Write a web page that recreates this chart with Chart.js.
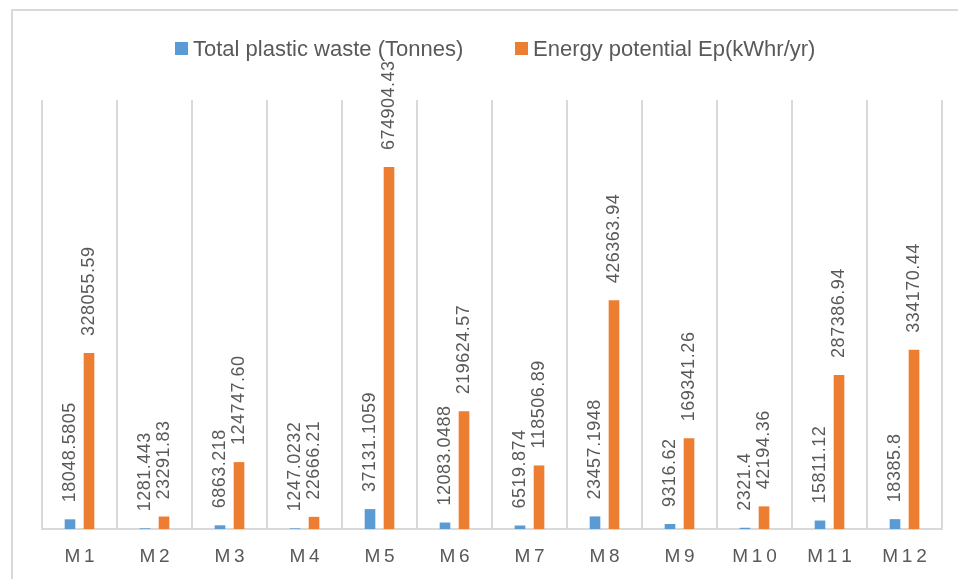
<!DOCTYPE html>
<html>
<head>
<meta charset="utf-8">
<script src="https://cdn.jsdelivr.net/npm/chart.js@4.4.1/dist/chart.umd.min.js"></script>
<style>
  html, body { margin: 0; padding: 0; background: #fff; }
  #wrap { position: relative; width: 958px; height: 579px; overflow: hidden; }
  #frame { position: absolute; left: 11px; top: 9px; width: 960px; height: 600px; border-left: 2px solid #d9d9d9; border-top: 2px solid #d9d9d9; }
  #chart { position: absolute; left: 0; top: 0; }
  .lg { position: absolute; top: 36px; font: 22px "Liberation Sans", Arial, sans-serif; color: #595959; white-space: nowrap; line-height: 25px; }
  .lg i { position: absolute; top: 6px; width: 13px; height: 13px; }
</style>
</head>
<body>
<div id="wrap">
  <div id="frame"></div>
  <canvas id="chart" width="958" height="579"></canvas>
  <div class="lg" style="left:175px; padding-left:18px;"><i style="left:0; background:#5b9bd5;"></i>Total plastic waste (Tonnes)</div>
  <div class="lg" style="left:515px; padding-left:18px;"><i style="left:0; background:#ed7d31;"></i>Energy potential Ep(kWhr/yr)</div>
</div>
<script>
const months = ['M1', 'M2', 'M3', 'M4', 'M5', 'M6', 'M7', 'M8', 'M9', 'M10', 'M11', 'M12'];
const plasticWaste = [18048.5805, 1281.443, 6863.218, 1247.0232, 37131.1059, 12083.0488, 6519.874, 23457.1948, 9316.62, 2321.4, 15811.12, 18385.8];
const energyPotential = [328055.59, 23291.83, 124747.60, 22666.21, 674904.43, 219624.57, 118506.89, 426363.94, 169341.26, 42194.36, 287386.94, 334170.44];

// rotated value labels above each bar
const valueLabels = {
  id: 'valueLabels',
  afterDatasetsDraw(chart) {
    const ctx = chart.ctx;
    chart.data.datasets.forEach((ds, i) => {
      chart.getDatasetMeta(i).data.forEach((bar, j) => {
        const v = ds.data[j];
        const txt = i === 1 ? v.toFixed(2) : String(v);
        ctx.save();
        ctx.translate(bar.x, bar.y - 17);
        ctx.rotate(-Math.PI / 2);
        ctx.font = '18px "Liberation Sans", Arial, sans-serif';
        ctx.letterSpacing = '0.5px';
        ctx.fillStyle = '#595959';
        ctx.textAlign = 'left';
        ctx.textBaseline = 'middle';
        ctx.fillText(txt, 0, 0);
        ctx.restore();
      });
    });
  }
};

const ctx = document.getElementById('chart').getContext('2d');
const chart = new Chart(ctx, {
  type: 'bar',
  data: {
    labels: months,
    datasets: [{
      label: 'Total plastic waste (Tonnes)',
      data: plasticWaste,
      backgroundColor: '#5b9bd5'
    }, {
      label: 'Energy potential Ep(kWhr/yr)',
      data: energyPotential,
      backgroundColor: '#ed7d31'
    }]
  },
  options: {
    responsive: false,
    animation: false,
    layout: { padding: { top: 100, left: 42, right: 16, bottom: 0 } },
    categoryPercentage: 0.507,
    barPercentage: 0.56,
    plugins: {
      legend: { display: false },
      tooltip: { enabled: false }
    },
    scales: {
      x: {
        grid: { color: '#d9d9d9', lineWidth: 2, drawTicks: false },
        border: { color: '#d9d9d9', width: 2 },
        ticks: {
          color: '#595959',
          padding: 16,
          font: { family: '"Liberation Sans", Arial, sans-serif', size: 19 },
          callback: function (value) {
            return this.getLabelForValue(value).split('').join('\u2009');
          }
        },
        afterFit: function (scale) {
          scale.height = 50;
        }
      },
      y: {
        display: false,
        min: 0,
        max: 800000
      }
    }
  },
  plugins: [valueLabels]
});
</script>
</body>
</html>
